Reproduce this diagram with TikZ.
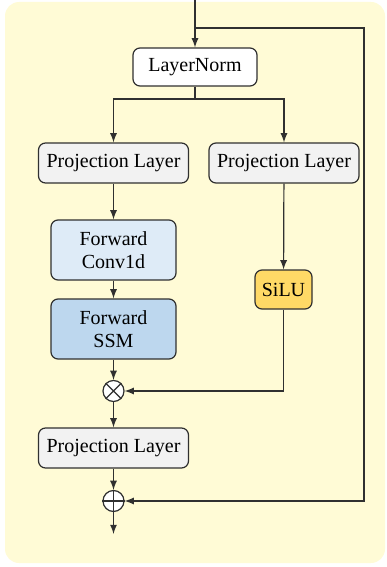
\documentclass[tikz,border=0pt]{standalone}
\usepackage{fontspec}
\setmainfont{Liberation Serif}
\usetikzlibrary{calc}

\definecolor{panelbg}{HTML}{FFFBD6}
\definecolor{linegray}{HTML}{303030}
\definecolor{projfill}{HTML}{F2F2F2}
\definecolor{convfill}{HTML}{DEEBF7}
\definecolor{ssmfill}{HTML}{BDD7EE}
\definecolor{silufill}{HTML}{FFD966}

\tikzset{
  block/.style={draw=linegray, line width=0.6pt, rounded corners=3.5pt,
    align=center, inner sep=2pt, font=\fontsize{10}{11.8}\selectfont},
  arr/.style={draw=linegray, line width=0.6pt, -latex},
  opnode/.style={draw=linegray, line width=0.6pt, circle, fill=white,
    inner sep=0pt, minimum size=10.5pt}
}

\begin{document}
\begin{tikzpicture}[x=0.5pt,y=-0.5pt]
    \useasboundingbox (0,0) rectangle (386,567);
    \fill [panelbg, rounded corners=7pt] (5,2) rectangle (385,563);% Panel

    \node[block, fill=white, minimum width=62pt, minimum height=19pt] (ln) at (195,67) {LayerNorm};
    \node[block, fill=projfill, minimum width=75pt, minimum height=20pt] (pl) at (113.5,163) {Projection Layer};
    \node[block, fill=projfill, minimum width=75pt, minimum height=20pt] (pr) at (284,163) {Projection Layer};
    \node[block, fill=convfill, minimum width=62.5pt, minimum height=30pt] (conv) at (113.5,250) {Forward\\Conv1d};
    \node[block, fill=ssmfill, minimum width=62.5pt, minimum height=30pt] (ssm) at (113.5,329) {Forward\\SSM};
    \node[block, fill=silufill, minimum width=28.5pt, minimum height=19.5pt] (silu) at (283.5,289.5) {SiLU};
    \node[block, fill=projfill, minimum width=75pt, minimum height=20pt] (pout) at (113.5,448) {Projection Layer};

    \node[opnode] (mul) at (113.5,391) {};% Multiply
    \draw [linegray, line width=0.6pt] (mul.north west) -- (mul.south east)
      (mul.north east) -- (mul.south west);
    \node[opnode] (add) at (113.5,501) {};% Add
    \draw [linegray, line width=0.6pt] (add.north) -- (add.south)
      (add.west) -- (add.east);

    \coordinate (in) at (195,0);
    \coordinate (split) at (195,28);
    \coordinate (skip) at (364,501);
    \coordinate (fork) at (195,99);
    \coordinate (out) at (113.5,534);

    \draw [arr] (in) -- (ln);
    \draw [arr] (split) -| (skip) -- (add);% Residual path
    \draw [linegray, line width=0.6pt] (ln) -- (fork);
    \draw [arr] (fork) -| (pl);
    \draw [arr] (fork) -| (pr);
    \draw [arr] (pl) -- (conv);
    \draw [arr] (conv) -- (ssm);
    \draw [arr] (ssm) -- (mul);
    \draw [arr] (pr) -- (silu);
    \draw [arr] (silu) |- (mul);
    \draw [arr] (mul) -- (pout);
    \draw [arr] (pout) -- (add);
    \draw [arr] (add) -- (out);
\end{tikzpicture}
\end{document}
